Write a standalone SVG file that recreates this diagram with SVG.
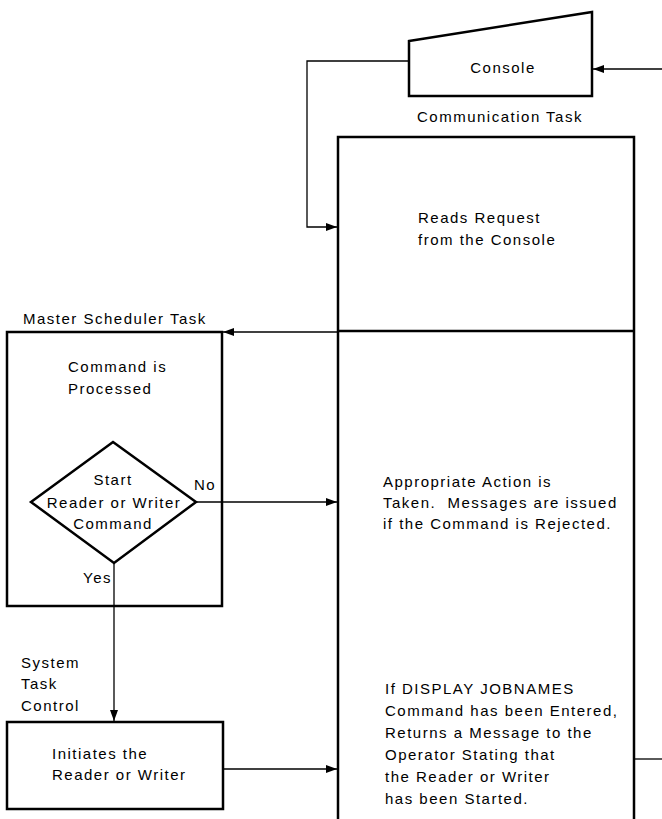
<svg xmlns="http://www.w3.org/2000/svg" width="662" height="819" viewBox="0 0 662 819">
  <defs>
    <marker id="arrow" viewBox="0 0 11 8" refX="11" refY="4" markerWidth="11" markerHeight="8" markerUnits="userSpaceOnUse" orient="auto">
      <path d="M0,0 L11,4 L0,8 Z" fill="#000"/>
    </marker>
    <style>
      .box { fill: #fff; stroke: #000; stroke-width: 2.5; }
      .conn { fill: none; stroke: #000; stroke-width: 1.3; }
      text { font-family: "Liberation Sans", Arial, sans-serif; font-size: 15px; letter-spacing: 1.5px; fill: #000; }
      .mid { text-anchor: middle; }
    </style>
  </defs>
  <rect width="662" height="819" fill="#fff"/>

  <!-- Console device -->
  <g id="console">
    <path class="box" d="M409,41 L592,12 L592,96 L409,96 Z"/>
    <text x="503" y="73" class="mid">Console</text>
  </g>

  <!-- Communication task: tall two-part box running off the bottom edge -->
  <g id="communication-task">
    <text x="500" y="122" class="mid">Communication Task</text>
    <path class="box" d="M338,137 L634,137 L634,832 L338,832 Z"/>
    <line class="box" x1="338" y1="331" x2="634" y2="331"/>
    <text x="418" y="223">Reads Request</text>
    <text x="418" y="245">from the Console</text>
    <text x="383" y="487">Appropriate Action is</text>
    <text x="383" y="508" xml:space="preserve">Taken.  Messages are issued</text>
    <text x="383" y="529">if the Command is Rejected.</text>
    <text x="385" y="694">If DISPLAY JOBNAMES</text>
    <text x="385" y="716">Command has been Entered,</text>
    <text x="385" y="738">Returns a Message to the</text>
    <text x="385" y="760">Operator Stating that</text>
    <text x="385" y="782">the Reader or Writer</text>
    <text x="385" y="804">has been Started.</text>
  </g>

  <!-- Master scheduler task with its decision -->
  <g id="master-scheduler">
    <text x="23" y="324">Master Scheduler Task</text>
    <rect class="box" x="7" y="332" width="215" height="274"/>
    <text x="68" y="372">Command is</text>
    <text x="68" y="394">Processed</text>
  </g>
  <g id="decision">
    <path class="box" d="M113,442 L196,502 L114,563 L31,502 Z"/>
    <text x="113" y="485" class="mid">Start</text>
    <text x="114" y="508" class="mid">Reader or Writer</text>
    <text x="113" y="529" class="mid">Command</text>
  </g>

  <!-- System task control -->
  <g id="system-task-control">
    <text x="21" y="668">System</text>
    <text x="21" y="689">Task</text>
    <text x="21" y="711">Control</text>
    <rect class="box" x="7" y="722" width="216" height="87"/>
    <text x="52" y="759">Initiates the</text>
    <text x="52" y="780">Reader or Writer</text>
  </g>

  <!-- Connectors -->
  <g id="connectors">
    <line class="conn" x1="662" y1="69" x2="593" y2="69" marker-end="url(#arrow)"/>
    <polyline class="conn" points="409,61 307,61 307,227 337,227" marker-end="url(#arrow)"/>
    <line class="conn" x1="338" y1="332" x2="223" y2="332" marker-end="url(#arrow)"/>
    <line class="conn" x1="196" y1="502" x2="337" y2="502" marker-end="url(#arrow)"/>
    <line class="conn" x1="114" y1="563" x2="114" y2="721" marker-end="url(#arrow)"/>
    <line class="conn" x1="223" y1="769" x2="337" y2="769" marker-end="url(#arrow)"/>
    <line class="conn" x1="634" y1="759" x2="662" y2="759"/>
  </g>
  <g id="labels">
    <text x="194" y="490">No</text>
    <text x="83" y="583">Yes</text>
  </g>
</svg>
